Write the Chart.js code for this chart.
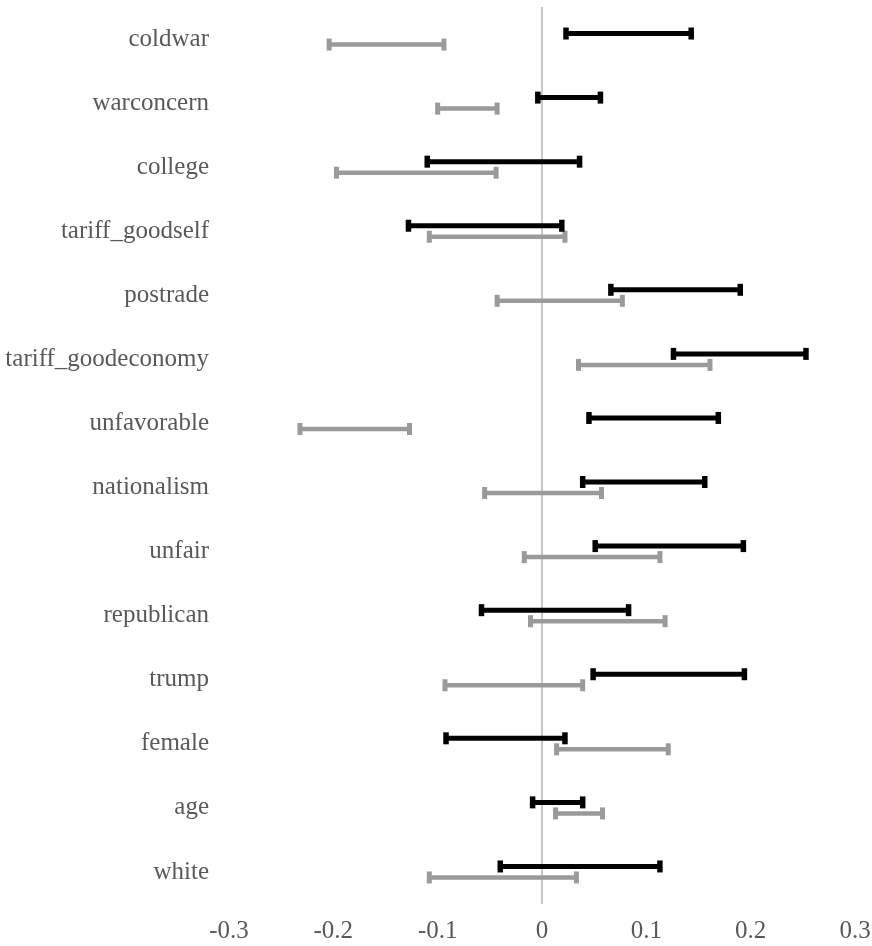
<!DOCTYPE html>
<html lang="en">
<head>
    <meta charset="UTF-8">
    <title>Interval Chart</title>
    <script src="https://cdn.jsdelivr.net/npm/chart.js"></script>
    <style>
        body {
            margin: 0;
            background-color: #ffffff;
        }
        .chart-container {
            width: 872px;
            height: 946px;
        }
    </style>
</head>
<body>
<div class="chart-container">
    <canvas id="ciChart"></canvas>
</div>

<script>
    const categories = ['coldwar', 'warconcern', 'college', 'tariff_goodself', 'postrade',
        'tariff_goodeconomy', 'unfavorable', 'nationalism', 'unfair', 'republican',
        'trump', 'female', 'age', 'white'];

    // black series: lower / upper bounds
    const blackLow  = [0.023, -0.004, -0.110, -0.128, 0.066, 0.126, 0.045, 0.039, 0.051, -0.058, 0.049, -0.092, -0.009, -0.040];
    const blackHigh = [0.143, 0.056, 0.036, 0.019, 0.190, 0.253, 0.169, 0.156, 0.193, 0.083, 0.194, 0.022, 0.039, 0.113];

    // gray series: lower / upper bounds
    const grayLow  = [-0.204, -0.100, -0.197, -0.108, -0.043, 0.035, -0.232, -0.055, -0.017, -0.011, -0.093, 0.014, 0.013, -0.108];
    const grayHigh = [-0.094, -0.043, -0.044, 0.022, 0.077, 0.161, -0.127, 0.057, 0.113, 0.118, 0.039, 0.121, 0.058, 0.033];

    const xTicks = [-0.3, -0.2, -0.1, 0, 0.1, 0.2, 0.3];

    const series = [
        { low: blackLow, high: blackHigh, color: '#000000', offset: -0.086, width: 5 },
        { low: grayLow, high: grayHigh, color: '#9a9a9a', offset: 0.086, width: 4.5 }
    ];

    const datasets = [];
    series.forEach(s => {
        categories.forEach((cat, i) => {
            datasets.push({
                data: [
                    { x: s.low[i], y: i + s.offset },
                    { x: s.high[i], y: i + s.offset }
                ],
                showLine: true,
                borderColor: s.color,
                backgroundColor: s.color,
                borderWidth: s.width,
                pointStyle: 'line',
                rotation: 90,
                pointRadius: 6,
                pointBorderWidth: s.width + 0.5,
                pointHoverRadius: 6
            });
        });
    });

    const labelFont = { family: "'Liberation Serif', 'DejaVu Serif', serif", size: 25 };

    new Chart(document.getElementById('ciChart').getContext('2d'), {
        type: 'scatter',
        data: { datasets: datasets },
        options: {
            responsive: true,
            maintainAspectRatio: false,
            animation: false,
            events: [],
            layout: { autoPadding: false, padding: { top: 7, right: 17, left: 0, bottom: 0 } },
            plugins: {
                legend: { display: false },
                tooltip: { enabled: false }
            },
            scales: {
                x: {
                    type: 'linear',
                    min: -0.3,
                    max: 0.3,
                    afterBuildTicks: axis => { axis.ticks = xTicks.map(v => ({ value: v })); },
                    afterFit: axis => {
                        axis.height = 42;
                        axis.paddingLeft = 0;
                        axis.paddingRight = 0;
                    },
                    border: { display: false },
                    grid: {
                        drawTicks: false,
                        lineWidth: 2,
                        color: ctx => (ctx.tick && Math.abs(ctx.tick.value) < 1e-9) ? '#c8c8c8' : 'rgba(0,0,0,0)'
                    },
                    ticks: {
                        padding: 12,
                        color: '#595959',
                        font: labelFont,
                        maxRotation: 0,
                        callback: v => Math.abs(v) < 1e-9 ? '0' : Number(v).toFixed(1)
                    }
                },
                y: {
                    type: 'linear',
                    reverse: true,
                    min: -0.5,
                    max: 13.5,
                    afterBuildTicks: axis => { axis.ticks = categories.map((c, i) => ({ value: i })); },
                    afterFit: axis => {
                        axis.width = 229;
                        axis.paddingTop = 0;
                        axis.paddingBottom = 0;
                    },
                    border: { display: false },
                    grid: { display: false, drawTicks: false },
                    ticks: {
                        padding: 20,
                        color: '#595959',
                        font: labelFont,
                        callback: v => categories[v]
                    }
                }
            }
        }
    });
</script>
</body>
</html>
